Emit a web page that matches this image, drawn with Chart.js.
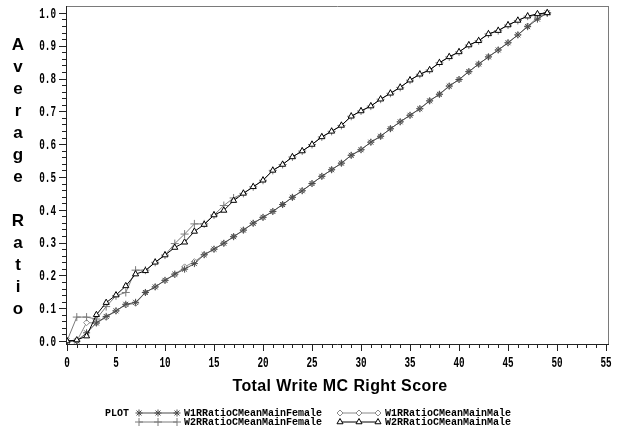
<!DOCTYPE html>
<html>
<head>
<meta charset="utf-8">
<script src="https://cdn.jsdelivr.net/npm/chart.js@4.4.1/dist/chart.umd.min.js"></script>
<style>
  html, body { margin: 0; padding: 0; background: #fff; }
  #plot { display: block; }
</style>
</head>
<body>
<canvas id="plot" width="621" height="436"></canvas>
<script>
// Data
const scores = [0, 1, 2, 3, 4, 5, 6, 7, 8, 9, 10, 11, 12, 13, 14, 15, 16, 17, 18, 19,
    20, 21, 22, 23, 24, 25, 26, 27, 28, 29, 30, 31, 32, 33, 34, 35, 36, 37, 38, 39,
    40, 41, 42, 43, 44, 45, 46, 47, 48, 49];

const w1Female = [0.000, 0.000, 0.025, 0.055, 0.075, 0.092, 0.112, 0.118, 0.148, 0.165,
    0.185, 0.204, 0.219, 0.236, 0.263, 0.280, 0.298, 0.318, 0.338, 0.359,
    0.377, 0.395, 0.416, 0.438, 0.458, 0.480, 0.502, 0.522, 0.542, 0.566,
    0.583, 0.606, 0.624, 0.647, 0.668, 0.688, 0.708, 0.732, 0.752, 0.777,
    0.797, 0.821, 0.844, 0.866, 0.887, 0.909, 0.933, 0.958, 0.981, 1.000];

const w2Female = [0.000, 0.073, 0.073, 0.067, 0.105, 0.138, 0.148, 0.216, 0.216, 0.240,
    0.262, 0.297, 0.326, 0.357, 0.357, 0.384, 0.413, 0.436, 0.450, 0.470,
    0.490, 0.520, 0.538, 0.561, 0.579, 0.599, 0.622, 0.639, 0.657, 0.685,
    0.701, 0.716, 0.737, 0.755, 0.773, 0.795, 0.813, 0.826, 0.848, 0.866,
    0.881, 0.902, 0.915, 0.936, 0.946, 0.963, 0.977, 0.990, 0.993, 1.000];

const w1Male = [0.000, 0.000, 0.056, 0.055, 0.072, 0.092, 0.110, 0.115, 0.148, 0.165,
    0.185, 0.202, 0.226, 0.242, 0.263, 0.280, 0.298, 0.318, 0.338, 0.359,
    0.377, 0.395, 0.416, 0.438, 0.458, 0.480, 0.502, 0.522, 0.542, 0.566,
    0.583, 0.606, 0.624, 0.647, 0.668, 0.688, 0.708, 0.732, 0.752, 0.777,
    0.797, 0.821, 0.844, 0.866, 0.887, 0.909, 0.933, 0.960, 0.985, 1.000];

const w2Male = [0.000, 0.003, 0.015, 0.080, 0.117, 0.140, 0.168, 0.204, 0.214, 0.240,
    0.262, 0.285, 0.301, 0.334, 0.355, 0.384, 0.398, 0.428, 0.450, 0.470,
    0.490, 0.520, 0.538, 0.561, 0.579, 0.599, 0.622, 0.639, 0.657, 0.685,
    0.701, 0.716, 0.737, 0.755, 0.773, 0.795, 0.813, 0.826, 0.848, 0.866,
    0.881, 0.902, 0.915, 0.936, 0.946, 0.963, 0.977, 0.990, 0.997, 1.000];

const seriesNames = ['W1RRatioCMeanMainFemale', 'W2RRatioCMeanMainFemale',
    'W1RRatioCMeanMainMale', 'W2RRatioCMeanMainMale'];

const xTickLabels = ['0', '5', '10', '15', '20', '25', '30', '35', '40', '45', '50', '55'];
const yTickLabels = ['0.0', '0.1', '0.2', '0.3', '0.4', '0.5', '0.6', '0.7', '0.8', '0.9', '1.0'];

const xTitle = 'Total Write MC Right Score';
const yTitle = 'Average Ratio';
const legendHead = 'PLOT';

const monoFont = "'Liberation Mono', 'DejaVu Sans Mono', monospace";

const styles = [
    { pointStyle: 'star', color: '#4a4a4a', bg: '#4a4a4a', radius: 3.5, order: 1 },
    { pointStyle: 'cross', color: '#7a7a7a', bg: '#7a7a7a', radius: 4, order: 2 },
    { pointStyle: 'rectRot', color: '#8a8a8a', bg: '#ffffff', radius: 3, order: 3 },
    { pointStyle: 'triangle', color: '#000000', bg: '#ffffff', radius: 3.5, order: 0 }
];
const seriesData = [w1Female, w2Female, w1Male, w2Male];

function toPoints(vals) {
    return scores.map((s, i) => ({ x: s, y: vals[i] }));
}

function line(ctx, x1, y1, x2, y2) {
    ctx.beginPath();
    ctx.moveTo(x1, y1);
    ctx.lineTo(x2, y2);
    ctx.stroke();
}

// narrow tick text, like the SAS device font
function narrowText(ctx, text, x, y, align) {
    ctx.save();
    ctx.translate(x, y);
    ctx.scale(0.62, 1);
    ctx.textAlign = align;
    ctx.fillText(text, 0, 0);
    ctx.restore();
}

// Frame, SAS-style ticks, titles and legend
const decor = {
    id: 'decor',
    afterDraw(chart) {
        const ctx = chart.ctx;
        const a = chart.chartArea;
        const xs = chart.scales.x;
        const ys = chart.scales.y;
        ctx.save();
        ctx.lineWidth = 1;

        // frame
        ctx.strokeStyle = '#7a7a7a';
        line(ctx, a.left, a.top + 0.5, a.right, a.top + 0.5);
        line(ctx, a.right - 0.5, a.top, a.right - 0.5, a.bottom);
        ctx.strokeStyle = '#222';
        line(ctx, a.left + 0.5, a.top, a.left + 0.5, a.bottom + 1);
        line(ctx, a.left, a.bottom + 0.5, a.right, a.bottom + 0.5);

        // x ticks: major every 5, minor every 1
        for (let v = 0; v <= 55; v++) {
            const px = Math.round(xs.getPixelForValue(v)) + 0.5;
            line(ctx, px, a.bottom, px, a.bottom + (v % 5 === 0 ? 7 : 4));
        }
        // y ticks: major every 0.1, minor every 0.02
        for (let k = 0; k <= 50; k++) {
            const py = Math.round(ys.getPixelForValue(k / 50)) + 0.5;
            line(ctx, a.left - (k % 5 === 0 ? 7 : 4), py, a.left, py);
        }

        // tick labels
        ctx.fillStyle = '#000';
        ctx.textBaseline = 'middle';
        ctx.font = 'bold 15px ' + monoFont;
        xTickLabels.forEach(t => {
            narrowText(ctx, t, xs.getPixelForValue(parseFloat(t)), a.bottom + 19, 'center');
        });
        yTickLabels.forEach(t => {
            narrowText(ctx, t, a.left - 10, ys.getPixelForValue(parseFloat(t)) + 1, 'right');
        });

        // axis titles
        ctx.textAlign = 'center';
        ctx.font = "bold 16px 'Liberation Sans', Arial, sans-serif";
        ctx.letterSpacing = '0.4px';
        ctx.fillText(xTitle, 340, 387);
        ctx.letterSpacing = '0px';
        ctx.font = "bold 17px 'Liberation Sans', Arial, sans-serif";
        [...yTitle].forEach((ch, i) => {
            if (ch !== ' ') ctx.fillText(ch, 18, 45 + i * 22);
        });

        // legend
        ctx.font = 'bold 10px ' + monoFont;
        ctx.textAlign = 'left';
        ctx.fillText(legendHead, 105, 413);
        const cols = [139, 340];
        const rows = [413, 422];
        seriesNames.forEach((name, i) => {
            const st = styles[i];
            const x0 = cols[Math.floor(i / 2)];
            const y0 = rows[i % 2];
            ctx.strokeStyle = st.color;
            ctx.lineWidth = 1;
            line(ctx, x0, y0, x0 + 38, y0);
            for (let j = 0; j < 3; j++) {
                ctx.fillStyle = st.bg;
                ctx.strokeStyle = st.color;
                Chart.helpers.drawPoint(ctx, {
                    pointStyle: st.pointStyle, radius: st.radius, borderWidth: 1, rotation: 0
                }, x0 + j * 19, y0);
            }
            ctx.fillStyle = '#000';
            ctx.fillText(name, x0 + 45, y0);
        });
        ctx.restore();
    }
};

new Chart(document.getElementById('plot'), {
    type: 'line',
    data: {
        datasets: seriesData.map((vals, i) => ({
            label: seriesNames[i],
            data: toPoints(vals),
            borderColor: styles[i].color,
            borderWidth: 1,
            backgroundColor: styles[i].bg,
            pointStyle: styles[i].pointStyle,
            pointRadius: styles[i].radius,
            pointBorderColor: styles[i].color,
            pointBackgroundColor: styles[i].bg,
            pointBorderWidth: 1,
            tension: 0,
            fill: false,
            order: styles[i].order
        }))
    },
    options: {
        responsive: false,
        animation: false,
        layout: { padding: { top: 6, right: 12, left: 0, bottom: 0 } },
        plugins: {
            legend: { display: false },
            tooltip: { enabled: false }
        },
        scales: {
            x: {
                type: 'linear',
                min: -0.1,
                max: 55.3,
                grid: { display: false, drawTicks: false },
                border: { display: false },
                ticks: { display: false },
                afterFit: s => { s.height = 92; }
            },
            y: {
                min: -0.009,
                max: 1.021,
                grid: { display: false, drawTicks: false },
                border: { display: false },
                ticks: { display: false },
                afterFit: s => { s.width = 66; }
            }
        }
    },
    plugins: [decor]
});
</script>
</body>
</html>
